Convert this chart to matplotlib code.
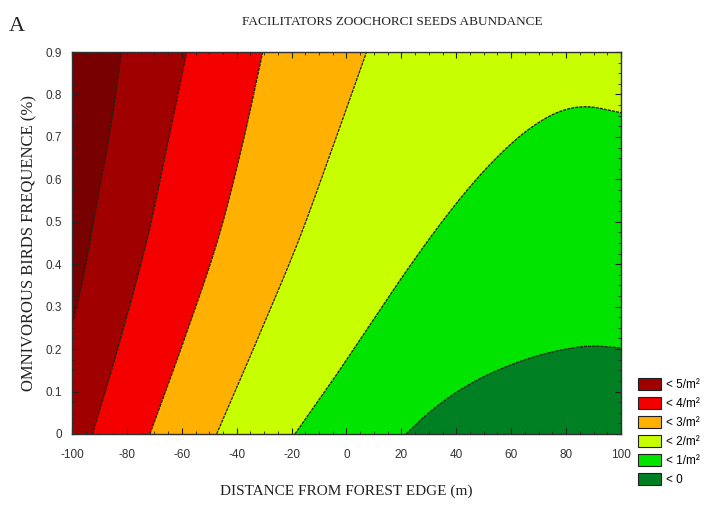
import numpy as np
import matplotlib
matplotlib.use("Agg")
import matplotlib.pyplot as plt
from matplotlib.patches import Patch
from matplotlib.ticker import MultipleLocator

# contour boundaries of the seed abundance surface, as (distance, frequency) points
bound_5 = [(-100.0, 0.255), (-95.6, 0.38), (-90.5, 0.56), (-86.0, 0.72), (-82.0, 0.9)]
bound_4 = [(-92.5, 0.0), (-82.3, 0.225), (-72.8, 0.455), (-65.3, 0.68), (-58.2, 0.9)]
bound_3 = [(-71.6, 0.0), (-59.0, 0.225), (-47.0, 0.455), (-38.0, 0.68), (-30.5, 0.9)]
bound_2 = [(-47.3, 0.0), (-32.0, 0.23), (-17.5, 0.455), (-4.8, 0.68), (7.3, 0.9)]
bound_1 = [(-18.8, 0.0), (-5.0, 0.127), (8.0, 0.252), (20.0, 0.367), (32.0, 0.476),
           (44.0, 0.575), (55.0, 0.653), (66.0, 0.716), (77.0, 0.758), (87.5, 0.771),
           (100.0, 0.757)]
bound_0 = [(21.7, 0.0), (30.0, 0.05), (40.0, 0.098), (50.0, 0.135), (60.0, 0.163),
           (70.0, 0.185), (80.0, 0.2), (89.0, 0.207), (100.0, 0.203)]

x_ticks = [-100, -80, -60, -40, -20, 0, 20, 40, 60, 80, 100]
y_ticks = [0, 0.1, 0.2, 0.3, 0.4, 0.5, 0.6, 0.7, 0.8, 0.9]

col_gt5 = "#780000"
col_5 = "#a00000"
col_4 = "#f50000"
col_3 = "#ffb000"
col_2 = "#c8ff00"
col_1 = "#00e400"
col_0 = "#008022"

legend_labels = ["< 5/m²", "< 4/m²", "< 3/m²", "< 2/m²", "< 1/m²", "< 0"]
legend_colors = [col_5, col_4, col_3, col_2, col_1, col_0]


def smooth(pts, n=24):
    # Catmull-Rom curve through the boundary points so the contour lines are not jagged
    p = np.asarray(pts, dtype=float)
    p = np.vstack([2 * p[0] - p[1], p, 2 * p[-1] - p[-2]])
    t = np.linspace(0, 1, n, endpoint=False)[:, None]
    out = []
    for i in range(1, len(p) - 2):
        p0, p1, p2, p3 = p[i - 1], p[i], p[i + 1], p[i + 2]
        out.append(0.5 * (2 * p1 + (-p0 + p2) * t
                          + (2 * p0 - 5 * p1 + 4 * p2 - p3) * t ** 2
                          + (-p0 + 3 * p1 - 3 * p2 + p3) * t ** 3))
    out.append(p[-2][None, :])
    c = np.vstack(out)
    return list(c[:, 0]), list(c[:, 1])


fig = plt.figure(figsize=(7.15, 5.15), dpi=100)
ax = fig.add_axes([0.1007, 0.1573, 0.7678, 0.7417])
ax.set_xlim(-100, 100)
ax.set_ylim(0, 0.9)
ax.set_facecolor(col_2)

line_kw = dict(color="#202010", lw=0.9, ls=(0, (2.5, 0.8)))

# left bands, filled from the boundary to the left edge
for pts, c in [(bound_2, col_3), (bound_3, col_4), (bound_4, col_5), (bound_5, col_gt5)]:
    sx, sy = smooth(pts)
    ax.fill(sx + [-100, -100], sy + [0.9, sy[0]], color=c, lw=0)
    ax.plot(sx, sy, **line_kw)

# right bands, filled down to the bottom axis
for pts, c in [(bound_1, col_1), (bound_0, col_0)]:
    sx, sy = smooth(pts)
    ax.fill(sx + [100], sy + [0], color=c, lw=0)
    ax.plot(sx, sy, **line_kw)

ax.set_xticks(x_ticks)
ax.set_yticks(y_ticks)
ax.set_xticklabels([str(v) for v in x_ticks])
ax.set_yticklabels(["0" if v == 0 else f"{v:.1f}" for v in y_ticks])
ax.xaxis.set_minor_locator(MultipleLocator(5))
ax.yaxis.set_minor_locator(MultipleLocator(0.025))
ax.tick_params(which="both", direction="in", top=True, right=True, colors="#202020",
               labelcolor="#333333", labelsize=8.5)
ax.tick_params(axis="x", which="major", length=4, width=0.8, pad=11)
ax.tick_params(axis="y", which="major", length=4, width=0.8, pad=7)
ax.tick_params(which="minor", length=2, width=0.6)
for lab in ax.get_xticklabels() + ax.get_yticklabels():
    lab.set_family("Liberation Sans")
for s in ax.spines.values():
    s.set_color("#303030")
    s.set_linewidth(1.0)

ax.set_xlabel("DISTANCE FROM FOREST EDGE (m)", family="Liberation Serif", fontsize=11,
              color="#222222", labelpad=17)
ax.set_ylabel("OMNIVOROUS BIRDS FREQUENCE (%)", family="Liberation Serif", fontsize=12,
              color="#222222", labelpad=6)

fig.text(0.549, 0.958, "FACILITATORS ZOOCHORCI SEEDS ABUNDANCE", ha="center", va="center",
         family="Liberation Serif", fontsize=9.5, color="#222222")
fig.text(0.012, 0.948, "A", ha="left", va="center", family="Liberation Serif",
         fontsize=16, color="#222222")

handles = [Patch(facecolor=c, edgecolor="#202020", lw=0.8) for c in legend_colors]
fig.legend(handles, legend_labels, loc="upper left", bbox_to_anchor=(0.886, 0.275),
           frameon=False, handlelength=1.9, handleheight=1.2, handletextpad=0.45,
           labelspacing=0.5, borderaxespad=0, prop={"family": "Liberation Sans", "size": 8.5})

plt.savefig("out.png", dpi=100)
